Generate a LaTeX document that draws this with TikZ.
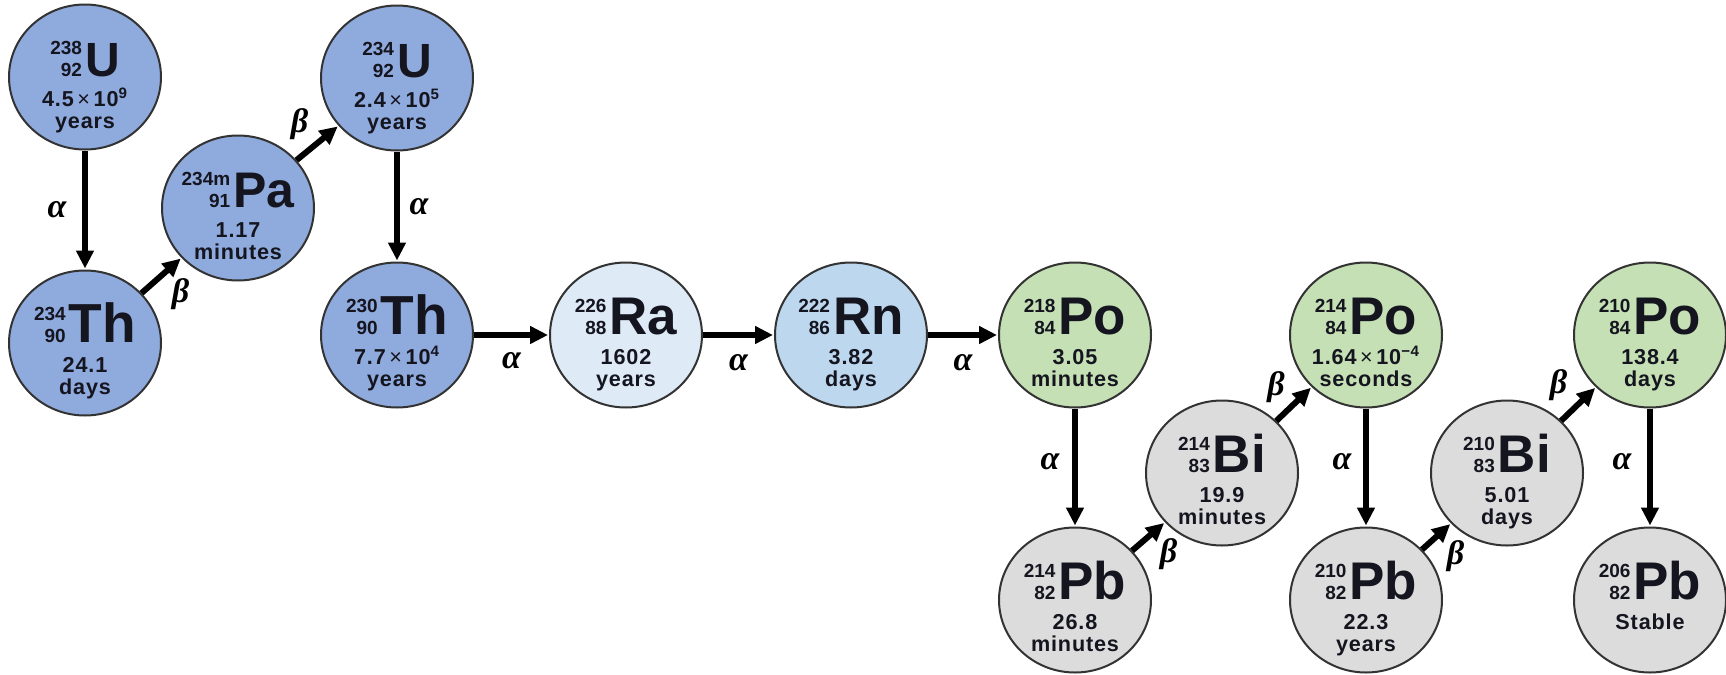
\documentclass[tikz,border=0pt]{standalone}
\usepackage{fontspec}
\setmainfont{Liberation Sans}
\newfontfamily\greekfont{Liberation Serif}
\usetikzlibrary{arrows.meta,shapes.geometric}

\definecolor{uBlue}{HTML}{8FAADC}
\definecolor{raBlue}{HTML}{DEEBF7}
\definecolor{rnBlue}{HTML}{BDD7EE}
\definecolor{poGreen}{HTML}{C5E0B4}
\definecolor{pbGray}{HTML}{DCDCDC}
\definecolor{rim}{HTML}{333333}
\definecolor{ink}{HTML}{151520}

% mass number over atomic number, then the element symbol
\newcommand\isotope[4][26.5pt]{%
  {\fontsize{9.5pt}{11pt}\selectfont\begin{tabular}[b]{@{}r@{}}#2\\#3\end{tabular}}%
  \hspace{1.5pt}{\fontsize{#1}{#1}\selectfont #4}}

% name, centre, fill, isotope line, half-life lines
\newcommand\nuclide[5]{%
  \node[nucleus, fill=#3] (#1) at (#2) {};
  \node[isoline] (#1-iso) at ([yshift=0.5pt]#1.center) {#4};
  \node[lifeline] (#1-life) at ([yshift=-14.5pt]#1.center)
    {\begin{tabular}[t]{@{}c@{}}#5\end{tabular}};
}
\newcommand\timesx{{\mdseries\,×\,}}

\begin{document}
\begin{tikzpicture}[x=0.5pt, y=-0.5pt,
  nucleus/.style={ellipse, draw=rim, line width=1pt, minimum width=76pt,
    minimum height=72.5pt, inner sep=0pt},
  isoline/.style={anchor=base, inner sep=0pt, text=ink, font=\bfseries},
  lifeline/.style={anchor=base, inner sep=0pt, text=ink,
    font=\fontsize{10.8pt}{11pt}\selectfont\bfseries\addfontfeature{LetterSpace=4}},
  decay/.style={line width=3pt, -{Triangle[length=9pt,width=8.5pt]}, shorten >=0.5pt},
  greek/.style={font=\fontsize{17pt}{17pt}\selectfont\greekfont\bfseries\itshape, inner sep=0pt}]

\useasboundingbox (0,0) rectangle (1726,675);

% uranium series, upper part
\nuclide{U238}{85,77}{uBlue}{\isotope[24pt]{238}{92}{U}}{4.5\timesx10\textsuperscript{9}\\years}
\nuclide{Th234}{85,343}{uBlue}{\isotope[27.5pt]{234}{90}{Th}}{24.1\\days}
\nuclide{Pa234}{238,208}{uBlue}{\isotope[25pt]{234m}{91}{Pa}}{1.17\\minutes}
\nuclide{U234}{397,78}{uBlue}{\isotope[24pt]{234}{92}{U}}{2.4\timesx10\textsuperscript{5}\\years}
\nuclide{Th230}{397,335}{uBlue}{\isotope[27.5pt]{230}{90}{Th}}{7.7\timesx10\textsuperscript{4}\\years}
\nuclide{Ra226}{626,335}{raBlue}{\isotope{226}{88}{Ra}}{1602\\years}
\nuclide{Rn222}{851,335}{rnBlue}{\isotope{222}{86}{Rn}}{3.82\\days}

% polonium, lead and bismuth
\nuclide{Po218}{1075,335}{poGreen}{\isotope{218}{84}{Po}}{3.05\\minutes}
\nuclide{Pb214}{1075,600}{pbGray}{\isotope{214}{82}{Pb}}{26.8\\minutes}
\nuclide{Bi214}{1222,473}{pbGray}{\isotope{214}{83}{Bi}}{19.9\\minutes}
\nuclide{Po214}{1366,335}{poGreen}{\isotope{214}{84}{Po}}{1.64\timesx10\textsuperscript{−4}\\seconds}
\nuclide{Pb210}{1366,600}{pbGray}{\isotope{210}{82}{Pb}}{22.3\\years}
\nuclide{Bi210}{1507,473}{pbGray}{\isotope{210}{83}{Bi}}{5.01\\days}
\nuclide{Po210}{1650,335}{poGreen}{\isotope{210}{84}{Po}}{138.4\\days}
\nuclide{Pb206}{1650,600}{pbGray}{\isotope{206}{82}{Pb}}{Stable}

% decays
\draw[decay] (U238)  -- node[greek, xshift=-14pt] (d1) {α} (Th234);
\draw[decay] (Th234) -- node[greek, xshift=9.5pt, yshift=-9.5pt] (d2) {β} (Pa234);
\draw[decay] (Pa234) -- node[greek, xshift=-9pt, yshift=9.5pt] (d3) {β} (U234);
\draw[decay] (U234)  -- node[greek, xshift=11pt] (d4) {α} (Th230);
\draw[decay] (Th230) -- node[greek, yshift=-13pt] (d5) {α} (Ra226);
\draw[decay] (Ra226) -- node[greek, yshift=-14pt] (d6) {α} (Rn222);
\draw[decay] (Rn222) -- node[greek, yshift=-14pt] (d7) {α} (Po218);
\draw[decay] (Po218) -- node[greek, xshift=-12.5pt, yshift=3pt] (d8) {α} (Pb214);
\draw[decay] (Pb214) -- node[greek, xshift=10pt, yshift=-9pt] (d9) {β} (Bi214);
\draw[decay] (Bi214) -- node[greek, xshift=-9pt, yshift=8.5pt] (d10) {β} (Po214);
\draw[decay] (Po214) -- node[greek, xshift=-12pt, yshift=3pt] (d11) {α} (Pb210);
\draw[decay] (Pb210) -- node[greek, xshift=9.5pt, yshift=-10pt] (d12) {β} (Bi210);
\draw[decay] (Bi210) -- node[greek, xshift=-10pt, yshift=9.5pt] (d13) {β} (Po210);
\draw[decay] (Po210) -- node[greek, xshift=-14pt, yshift=3pt] (d14) {α} (Pb206);
\end{tikzpicture}
\end{document}
